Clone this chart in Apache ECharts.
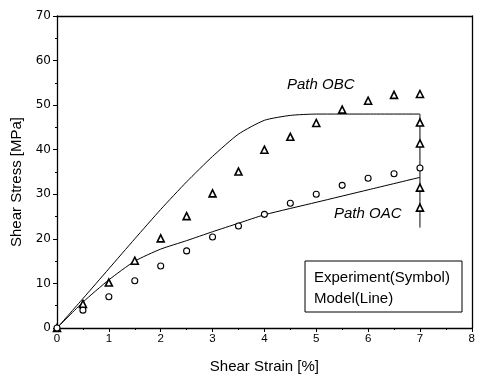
<!DOCTYPE html>
<html><head><meta charset="utf-8">
<script src="https://cdn.jsdelivr.net/npm/echarts@6/dist/echarts.min.js"></script>
<style>html,body{margin:0;padding:0;background:#fff}#c{width:478px;height:379px}</style>
</head><body><div id="c"></div>
<script>
// Experiment (symbols)
const obcExpX = [0, 0.5, 1, 1.5, 2, 2.5, 3, 3.5, 4, 4.5, 5, 5.5, 6, 6.5, 7, 7, 7, 7, 7];
const obcExpY = [0, 5.4, 10.2, 15.1, 20.1, 25.1, 30.2, 35.1, 40.0, 42.9, 46.0, 49.0, 51.0, 52.3, 52.5, 46.1, 41.4, 31.5, 27.0];
const oacExpX = [0, 0.5, 1, 1.5, 2, 2.5, 3, 3.5, 4, 4.5, 5, 5.5, 6, 6.5, 7];
const oacExpY = [0, 4.0, 7.0, 10.6, 13.9, 17.3, 20.4, 22.9, 25.5, 28.0, 30.0, 32.0, 33.6, 34.6, 35.9];
// Model (lines)
const obcModelX = [0, 0.5, 1, 1.5, 2, 2.5, 3, 3.5, 4, 4.5, 5, 6, 7, 7];
const obcModelY = [0, 6.6, 13.3, 20.0, 26.6, 32.8, 38.5, 43.5, 46.6, 47.7, 48.0, 48.0, 48.0, 22.5];
const oacModelX = [0, 0.5, 1, 1.5, 2, 2.5, 3, 3.5, 4, 5, 6, 7];
const oacModelY = [0, 5.8, 10.8, 15.0, 17.7, 19.6, 21.6, 23.5, 25.4, 28.2, 31.0, 33.8];
const xTicks = [0, 1, 2, 3, 4, 5, 6, 7, 8];
const yTicks = [0, 10, 20, 30, 40, 50, 60, 70];
const xTitle = 'Shear Strain [%]';
const yTitle = 'Shear Stress [MPa]';
const labelOBC = 'Path OBC';
const labelOAC = 'Path OAC';
const legendLines = ['Experiment(Symbol)', 'Model(Line)'];

const zip = (xs, ys) => xs.map((x, i) => [x, ys[i]]);
const FONT = 'Liberation Sans, Arial, sans-serif';
const chart = echarts.init(document.getElementById('c'), null, {renderer: 'canvas'});
const axisCommon = {
  axisLine: {show: true, onZero: false, lineStyle: {color: '#000', width: 1.3}},
  splitLine: {show: false}
};
chart.setOption({
  animation: false,
  backgroundColor: '#fff',
  grid: {left: 57, right: 2, top: 16, bottom: 50},
  xAxis: [
    Object.assign({}, axisCommon, {
      type: 'value', min: xTicks[0], max: xTicks[xTicks.length - 1], interval: 1,
      name: xTitle, nameLocation: 'middle', nameGap: 31,
      nameTextStyle: {fontFamily: FONT, fontSize: 15, color: '#000'},
      axisTick: {show: true, inside: false, length: 4, lineStyle: {color: '#000'}},
      minorTick: {show: true, splitNumber: 2, length: 2, lineStyle: {color: '#000'}},
      axisLabel: {fontFamily: FONT, fontSize: 11.5, color: '#000', margin: 5}
    }),
    Object.assign({}, axisCommon, {
      type: 'value', min: xTicks[0], max: xTicks[xTicks.length - 1], position: 'top',
      axisTick: {show: false}, axisLabel: {show: false}
    })
  ],
  yAxis: [
    Object.assign({}, axisCommon, {
      type: 'value', min: yTicks[0], max: yTicks[yTicks.length - 1], interval: 10,
      axisTick: {show: true, inside: false, length: 4, lineStyle: {color: '#000'}},
      minorTick: {show: true, splitNumber: 2, length: 2, lineStyle: {color: '#000'}},
      axisLabel: {fontFamily: 'DejaVu Sans, sans-serif', fontSize: 12, color: '#000', margin: 6}
    }),
    Object.assign({}, axisCommon, {
      type: 'value', min: yTicks[0], max: yTicks[yTicks.length - 1], position: 'right',
      axisTick: {show: false}, axisLabel: {show: false}
    })
  ],
  series: [
    {type: 'line', data: zip(obcModelX, obcModelY), symbol: 'none', smooth: 0.2,
     lineStyle: {color: '#000', width: 1}, z: 3},
    {type: 'line', data: zip(oacModelX, oacModelY), symbol: 'none', smooth: 0.2,
     lineStyle: {color: '#000', width: 1}, z: 3},
    {type: 'scatter', data: zip(obcExpX, obcExpY), symbol: 'triangle', symbolSize: 7,
     itemStyle: {color: '#fff', borderColor: '#000', borderWidth: 1.6, opacity: 1}, z: 4},
    {type: 'scatter', data: zip(oacExpX, oacExpY), symbol: 'circle', symbolSize: 6,
     itemStyle: {color: '#fff', borderColor: '#000', borderWidth: 1.1, opacity: 1}, z: 4}
  ],
  graphic: [
    {type: 'text', x: 17, y: 182, rotation: Math.PI / 2,
     style: {text: yTitle, fontFamily: FONT, fontSize: 15, fill: '#000', align: 'center', verticalAlign: 'middle'}},
    {type: 'text', left: 287, top: 77, style: {text: labelOBC, fontFamily: FONT, fontSize: 15, fontStyle: 'italic', fill: '#000'}},
    {type: 'text', left: 334, top: 206, style: {text: labelOAC, fontFamily: FONT, fontSize: 15, fontStyle: 'italic', fill: '#000'}},
    {type: 'rect', shape: {x: 305, y: 261, width: 157, height: 51},
     style: {fill: '#fff', stroke: '#000', lineWidth: 1}, z: 10},
    {type: 'text', left: 314, top: 270, z: 11, style: {text: legendLines[0], fontFamily: FONT, fontSize: 15, fill: '#000'}},
    {type: 'text', left: 314, top: 291, z: 11, style: {text: legendLines[1], fontFamily: FONT, fontSize: 15, fill: '#000'}}
  ]
});
</script></body></html>
